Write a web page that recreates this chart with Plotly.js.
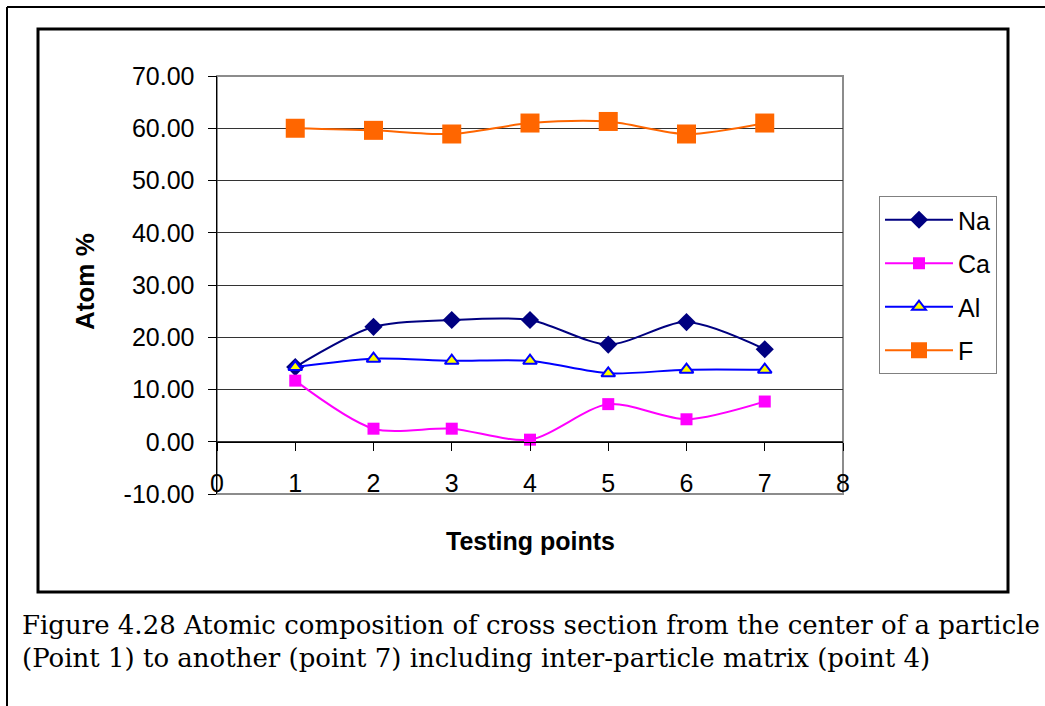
<!DOCTYPE html>
<html>
<head>
<meta charset="utf-8">
<script src="https://cdn.plot.ly/plotly-3.0.1.min.js"></script>
<style>html,body{margin:0;padding:0;background:#fff;}#chart{width:1045px;height:706px;}</style>
</head>
<body>
<div id="chart"></div>
<script>
const points = [1, 2, 3, 4, 5, 6, 7];
const na = [14.3, 22.0, 23.3, 23.3, 18.6, 22.9, 17.7];
const ca = [11.7, 2.5, 2.5, 0.4, 7.2, 4.3, 7.7];
const al = [14.3, 15.9, 15.5, 15.5, 13.1, 13.8, 13.8];
const f  = [60.0, 59.6, 58.9, 61.0, 61.3, 58.9, 61.0];
const xTickVals = [0, 1, 2, 3, 4, 5, 6, 7, 8];
const yTickVals = [-10, 0, 10, 20, 30, 40, 50, 60, 70];
const captionLines = [
  'Figure 4.28 Atomic composition of cross section from the center of a particle',
  '(Point 1) to another (point 7) including inter-particle matrix (point 4)'
];

const FONT = 'Liberation Sans, Arial, sans-serif';
const SERIF = 'DejaVu Serif, Liberation Serif, serif';
const L = 217, R = 843, T = 76, B = 494, W = 1045, H = 706;
const px = v => (v - L) / (R - L);
const py = v => (B - v) / (B - T);

function tr(name, y, color, sym, size, fill, lw) {
  return {
    x: points, y: y, name: name, type: 'scatter', mode: 'lines+markers',
    legendgroup: name,
    line: {color: color, width: 2, shape: 'spline', smoothing: 0.8},
    marker: {symbol: sym, size: size, color: fill, line: {color: color, width: lw}}
  };
}
const data = [
  tr('Na', na, '#000080', 'diamond', 14, '#000080', 0),
  tr('Ca', ca, '#FF00FF', 'square', 12, '#FF00FF', 0),
  tr('Al', al, '#0000FF', 'triangle-up', 12, '#FFFF00', 2),
  tr('F', f, '#FF6600', 'square', 19, '#FF6600', 0)
];

const layout = {
  width: W, height: H,
  margin: {l: L, r: W - R, t: T, b: H - B, pad: 0},
  paper_bgcolor: '#fff', plot_bgcolor: '#fff',
  font: {family: FONT, size: 25, color: '#000'},
  showlegend: true,
  legend: {
    x: px(879), y: py(196), xanchor: 'left', yanchor: 'top',
    bordercolor: '#808080', borderwidth: 1, bgcolor: '#fff',
    font: {family: FONT, size: 25, color: '#000'},
    tracegroupgap: 8, itemwidth: 68
  },
  xaxis: {
    range: [0, 8], tickvals: xTickVals, ticktext: xTickVals.map(String),
    anchor: 'free', position: 0.125,
    showline: true, linecolor: '#000', linewidth: 1,
    ticks: 'outside', ticklen: 8, tickcolor: '#000',
    showgrid: false, zeroline: false, ticklabelstandoff: 11,
    tickfont: {family: FONT, size: 25, color: '#000'}
  },
  yaxis: {
    range: [-10, 70], tickvals: yTickVals, ticktext: yTickVals.map(v => v.toFixed(2)),
    showline: true, linecolor: '#000', linewidth: 1.5,
    ticks: 'outside', ticklen: 8, tickcolor: '#000',
    showgrid: true, gridcolor: '#333', gridwidth: 1, zeroline: false,
    ticklabelstandoff: 8,
    tickfont: {family: FONT, size: 25, color: '#000'}
  },
  shapes: [
    {type: 'rect', xref: 'paper', yref: 'paper', x0: 0, x1: 1, y0: 0, y1: 1,
     line: {color: '#8c8c8c', width: 2}, layer: 'below'},
    {type: 'rect', xref: 'paper', yref: 'paper', x0: px(38), x1: px(1008), y0: py(592), y1: py(29),
     line: {color: '#000', width: 3}},
    {type: 'line', xref: 'paper', yref: 'paper', x0: px(7), x1: px(7), y0: py(7), y1: py(710),
     line: {color: '#000', width: 2}},
    {type: 'line', xref: 'paper', yref: 'paper', x0: px(7), x1: px(1050), y0: py(7), y1: py(7),
     line: {color: '#000', width: 2}}
  ],
  annotations: [
    {text: '<b>Atom %</b>', xref: 'paper', yref: 'paper', x: px(85), y: py(282),
     xanchor: 'center', yanchor: 'middle',
     textangle: -90, showarrow: false, font: {family: FONT, size: 26, color: '#000'}},
    {text: '<b>Testing points</b>', xref: 'paper', yref: 'paper', x: px(530), y: py(541),
     xanchor: 'center', yanchor: 'middle',
     showarrow: false, font: {family: FONT, size: 25, color: '#000'}},
    {text: captionLines[0], xref: 'paper', yref: 'paper', x: px(20), y: py(625),
     xanchor: 'left', yanchor: 'middle',
     showarrow: false, font: {family: SERIF, size: 26, color: '#000'}},
    {text: captionLines[1], xref: 'paper', yref: 'paper', x: px(20), y: py(658),
     xanchor: 'left', yanchor: 'middle',
     showarrow: false, font: {family: SERIF, size: 26, color: '#000'}}
  ]
};

Plotly.newPlot('chart', data, layout, {displayModeBar: false, staticPlot: true});
</script>
</body>
</html>
